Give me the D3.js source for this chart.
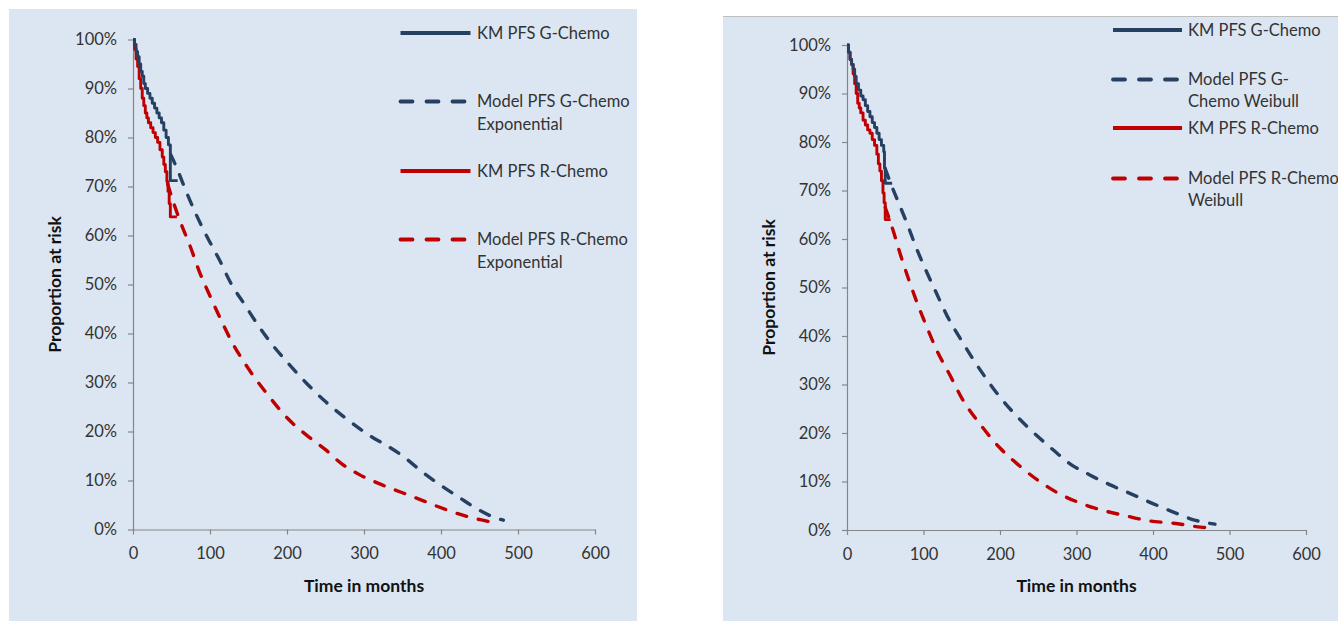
<!DOCTYPE html>
<html>
<head>
<meta charset="utf-8">
<script src="https://cdn.jsdelivr.net/npm/d3@7"></script>
<style>
  html, body { margin: 0; padding: 0; background: #ffffff; }
  svg { display: block; }
  text { font-family: Lato, "Open Sans", sans-serif; }
</style>
</head>
<body>
<svg id="chart" width="1338" height="621"></svg>
<script>
// ---------------- DATA ----------------
const xTicks = [0, 100, 200, 300, 400, 500, 600];
const yTicks = [0, 10, 20, 30, 40, 50, 60, 70, 80, 90, 100];
const xTitle = "Time in months";
const yTitle = "Proportion at risk";

// Left panel: exponential models  [months, % at risk]
const leftKmG = [[0,100],[2,99],[4,97.5],[6,96.5],[8,95],[10,93.5],[12,92.5],[14,91],[16,90],[19,89],[22,88],[25,87],[28,86],[31,85],[34,84],[37,83],[40,81.5],[43,80],[46,78.5],[48.5,71.2],[58,71.2]];
const leftKmR = [[0,100],[2,98],[4,96],[6,94.5],[8,92],[10,90],[12,88],[14,86.5],[16,85],[18,84],[20,83],[23,82],[26,81],[29,80],[32,79],[35,77.5],[38,76],[40,74.5],[42,73],[44,71],[45.5,69],[47,66.5],[48.5,63.8],[57,63.8]];
const leftModelG = [[49,76.5],[56,74.1],[69,69],[82,64.3],[97,59.5],[112,55.1],[127,50.3],[145,45.9],[162,41.8],[181,37.7],[200,34.2],[225,29.9],[250,26.1],[283,21.9],[307,19.2],[331,17],[352,14.8],[376,11.7],[398,9.2],[424,6.5],[448,4.1],[474,2.2],[481,1.9]];
const leftModelR = [[45,70.5],[52,67],[62,62.6],[75,57.5],[86,52.7],[99,48],[113,43.2],[128,38.4],[150,32.8],[175,27.5],[200,22.8],[225,19.3],[250,16.3],[272,13.3],[294,11.2],[322,9.2],[350,7.5],[378,5.8],[404,4.2],[435,2.6],[465,1.5],[472,1.2]];
const leftLegend = [["KM PFS G-Chemo"], ["Model PFS G-Chemo", "Exponential"], ["KM PFS R-Chemo"], ["Model PFS R-Chemo", "Exponential"]];

// Right panel: Weibull models
const rightKmG = [[0,100],[2,98.5],[4,97],[6,96],[8,95],[10,93.5],[12,92],[15,90.7],[18,89.5],[21,88.7],[24,87.5],[27,86.3],[30,85.2],[33,84],[36,83],[39,81.8],[42,80.5],[45,79.3],[48,78],[49,74.6],[50,71.5],[59,71.5]];
const rightKmR = [[0,100],[2,98.5],[4,97],[6,96],[8,94],[10,92],[12,90],[14,88],[16,87],[18,86],[21,84.5],[24,83.5],[27,82.5],[30,81.8],[33,80.5],[36,79.3],[39,77.5],[41,75.5],[43,74],[45,72],[47,69.5],[48.5,67.5],[50,64],[57,64]];
const rightModelG = [[50,74.5],[57,71.5],[65,68.4],[78,63.4],[90,58.4],[103,53.6],[117,48.8],[131,44.1],[148,39.5],[175,32.8],[200,27.4],[235,21.4],[269,16.6],[291,13.7],[318,11.3],[344,9.3],[372,7.4],[399,5.5],[425,3.8],[453,2.1],[481,1.2]];
const rightModelR = [[50,66.5],[60,61.9],[70,56.7],[81,51.5],[92,46.7],[105,41.6],[116,37.5],[135,31.8],[150,27.2],[175,21.6],[200,16.9],[225,13.3],[250,10.2],[276,7.6],[304,5.6],[333,4.1],[364,2.95],[394,1.9],[427,1.4],[462,0.6],[470,0.5]];
const rightLegend = [["KM PFS G-Chemo"], ["Model PFS G-", "Chemo Weibull"], ["KM PFS R-Chemo"], ["Model PFS R-Chemo", "Weibull"]];

// ---------------- STYLE ----------------
const BG = "#DCE6F2";
const BLUE = "#254061";
const RED = "#C00000";
const AXIS = "#868686";
const TICKTXT = "#333333";

const svg = d3.select("#chart");

function drawPanel(cfg) {
  const g = svg.append("g");
  g.append("rect").attr("x", cfg.bg[0]).attr("y", cfg.bg[1])
    .attr("width", cfg.bg[2]).attr("height", cfg.bg[3]).attr("fill", BG);
  if (cfg.topBorder) {
    g.append("line").attr("x1", cfg.bg[0]).attr("x2", cfg.bg[0] + cfg.bg[2])
      .attr("y1", cfg.bg[1] + 0.5).attr("y2", cfg.bg[1] + 0.5)
      .attr("stroke", "#BFBFBF").attr("stroke-width", 1);
  }

  const x = d3.scaleLinear().domain([0, 600]).range([cfg.x0, cfg.x1]);
  const y = d3.scaleLinear().domain([0, 100]).range([cfg.y0, cfg.y1]);

  const xAxis = d3.axisBottom(x).tickValues(xTicks).tickSize(5).tickSizeOuter(0).tickPadding(13);
  const yAxis = d3.axisLeft(y).tickValues(yTicks).tickSize(5).tickSizeOuter(0).tickPadding(11)
    .tickFormat(d => d + "%");

  const gx = g.append("g").attr("transform", `translate(0,${cfg.y0})`).call(xAxis);
  const gy = g.append("g").attr("transform", `translate(${cfg.x0},0)`).call(yAxis);
  [gx, gy].forEach(a => {
    a.select(".domain").attr("stroke", AXIS).attr("stroke-width", 1.2);
    a.selectAll(".tick line").attr("stroke", AXIS).attr("stroke-width", 1.2);
    a.selectAll(".tick text").attr("fill", TICKTXT).style("font-size", "16.5px")
      .style("font-family", "Lato, sans-serif");
  });

  // axis titles
  g.append("text").attr("x", (cfg.x0 + cfg.x1) / 2).attr("y", cfg.y0 + 62)
    .attr("text-anchor", "middle").style("font-weight", "bold").style("font-size", "17.5px")
    .attr("fill", "#111111").text(xTitle);
  g.append("text")
    .attr("transform", `translate(${cfg.yTitleX},${(cfg.y0 + cfg.y1) / 2}) rotate(-90)`)
    .attr("text-anchor", "middle").attr("dy", "0.35em")
    .style("font-weight", "bold").style("font-size", "17.5px")
    .attr("fill", "#111111").text(yTitle);

  const stepLine = d3.line().x(d => x(d[0])).y(d => y(d[1])).curve(d3.curveStepAfter);
  const smooth = d3.line().x(d => x(d[0])).y(d => y(d[1])).curve(d3.curveMonotoneX);

  const series = [
    { data: cfg.modelG, color: BLUE, dashed: true },
    { data: cfg.modelR, color: RED, dashed: true },
    { data: cfg.kmR, color: RED, dashed: false },
    { data: cfg.kmG, color: BLUE, dashed: false }
  ];
  series.forEach(s => {
    g.append("path").datum(s.data)
      .attr("d", s.dashed ? smooth : stepLine)
      .attr("fill", "none").attr("stroke", s.color)
      .attr("stroke-width", s.dashed ? 3.4 : 2.9)
      .attr("stroke-linecap", s.dashed ? "round" : "butt")
      .attr("stroke-linejoin", "round")
      .attr("stroke-dasharray", s.dashed ? "10,12" : null);
  });

  // legend
  const legStyles = [
    { color: BLUE, dashed: false }, { color: BLUE, dashed: true },
    { color: RED, dashed: false }, { color: RED, dashed: true }
  ];
  cfg.legend.forEach((lines, i) => {
    const ly = cfg.legendY[i];
    const st = legStyles[i];
    g.append("line").attr("x1", cfg.legendX[0]).attr("x2", cfg.legendX[1])
      .attr("y1", ly).attr("y2", ly)
      .attr("stroke", st.color).attr("stroke-width", 3.8)
      .attr("stroke-linecap", st.dashed ? "round" : "butt")
      .attr("stroke-dasharray", st.dashed ? "12,14" : null);
    lines.forEach((t, j) => {
      g.append("text").attr("x", cfg.legendX[2]).attr("y", ly + j * cfg.lineGap)
        .attr("dy", "0.35em").style("font-size", "16.5px").attr("fill", TICKTXT).text(t);
    });
  });
}

drawPanel({
  bg: [9, 9, 628, 612], topBorder: false,
  x0: 133, x1: 595, y0: 529.5, y1: 39.5, yTitleX: 55,
  kmG: leftKmG, kmR: leftKmR, modelG: leftModelG, modelR: leftModelR,
  legend: leftLegend, legendX: [400.5, 470.5, 477], legendY: [33, 101.5, 171, 239.5], lineGap: 23
});

drawPanel({
  bg: [723, 16, 615, 605], topBorder: true,
  x0: 847, x1: 1306, y0: 530, y1: 45, yTitleX: 769,
  kmG: rightKmG, kmR: rightKmR, modelG: rightModelG, modelR: rightModelR,
  legend: rightLegend, legendX: [1113, 1182, 1188], legendY: [30, 79.5, 128, 178.5], lineGap: 22
});
</script>
</body>
</html>
